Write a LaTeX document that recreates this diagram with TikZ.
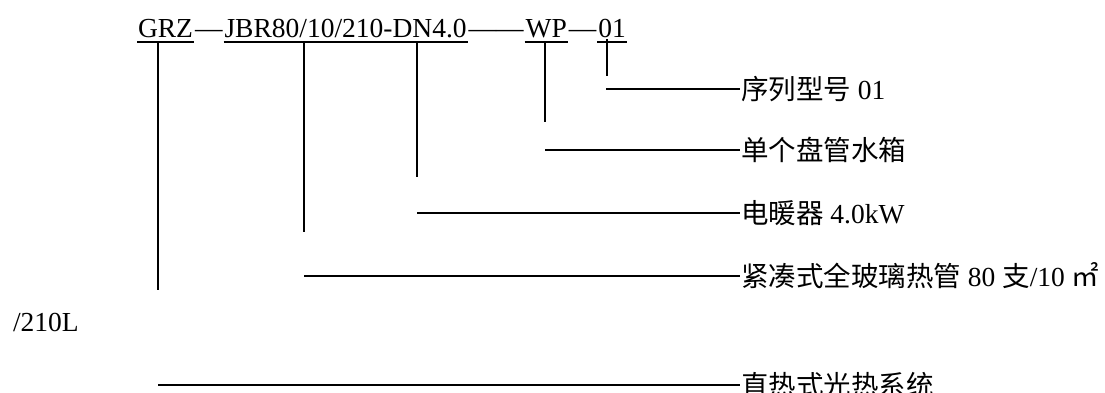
\documentclass[tikz,border=0pt]{standalone}
\usepackage{fontspec}
\setmainfont{Liberation Serif}
\newfontfamily\cjk{Noto Sans CJK SC}
\usetikzlibrary{positioning}

\begin{document}
\begin{tikzpicture}[x=1pt,y=-1pt,line width=2pt,
  every node/.style={font=\fontsize{27.5}{30}\selectfont,inner sep=0pt},
  code/.style={text height=19pt,text depth=4pt},
  lbl/.style={anchor=west}]
  \useasboundingbox (0,0) rectangle (1105,392);
  % model code
  \node[code,anchor=base west] (grz) at (137,37) {GRZ};
  \node[code,right=0pt of grz] (d1) {—};
  \node[code,right=0pt of d1] (jbr) {JBR80/10/210-DN4.0};
  \node[code,right=0pt of jbr] (d2) {——};
  \node[code,right=0pt of d2] (wp) {WP};
  \node[code,right=0pt of wp] (d3) {—};
  \node[code,right=0pt of d3] (num) {01};
  \foreach \n in {grz,jbr,wp,num}
    \draw[line width=1.5pt] (\n.south west) -- (\n.south east);
  % legs
  \coordinate (gTop) at (158,41);  \coordinate (gEnd) at (158,290);
  \coordinate (jTop) at (304,41);  \coordinate (jEnd) at (304,232);
  \coordinate (dTop) at (417,41);  \coordinate (dEnd) at (417,177);
  \coordinate (wTop) at (545,41);  \coordinate (wEnd) at (545,122);
  \coordinate (nTop) at (607,39);  \coordinate (nEnd) at (607,76);
  % labels
  \node[lbl] (serial) at (740,89) {{\cjk 序列型号} 01};
  \node[lbl] (tank) at (740,150) {{\cjk 单个盘管水箱}};
  \node[lbl] (heater) at (740,213) {{\cjk 电暖器} 4.0kW};
  \node[lbl] (tube) at (740,276) {{\cjk 紧凑式全玻璃热管} 80 {\cjk 支}/10 {\cjk ㎡}};
  \node[anchor=west] (vol) at (12,322) {/210L};
  \node[lbl] (sys) at (740,385) {{\cjk 直热式光热系统}};
  % lines
  \draw (gTop) -- (gEnd);
  \draw (jTop) -- (jEnd);
  \draw (dTop) -- (dEnd);
  \draw (wTop) -- (wEnd);
  \draw (nTop) -- (nEnd);
  \draw ([xshift=-1pt]nTop |- serial) -- (serial.west);
  \draw (wTop |- tank) -- (tank.west);
  \draw (dTop |- heater) -- (heater.west);
  \draw (jTop |- tube) -- (tube.west);
  \draw (gTop |- sys) -- (sys.west);
\end{tikzpicture}
\end{document}
